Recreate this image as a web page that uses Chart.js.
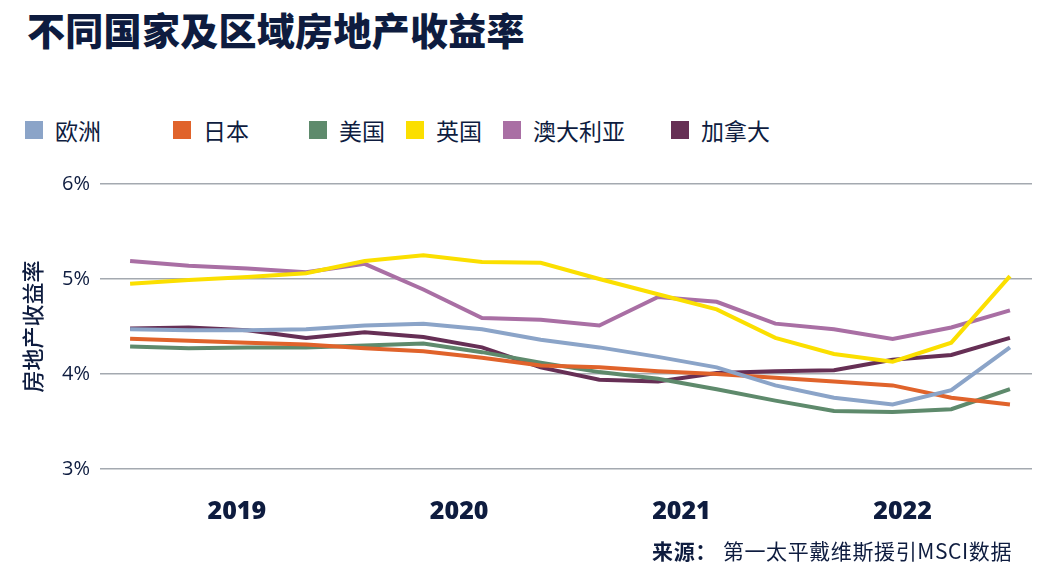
<!DOCTYPE html>
<html>
<head>
<meta charset="utf-8">
<script src="https://cdn.jsdelivr.net/npm/chart.js@4.4.1/dist/chart.umd.min.js"></script>
<style>
  body { margin: 0; background: #fff; width: 1060px; height: 577px; position: relative; overflow: hidden;
         font-family: "Noto Sans CJK SC", "Noto Sans", sans-serif; color: #0e1c3f; }
  #title { position: absolute; left: 27px; top: 1px; font-size: 38px; font-weight: 900; letter-spacing: 0.3px; }
  .leg { position: absolute; top: 115px; font-size: 23px; line-height: 30px; white-space: nowrap; }
  .leg i { position: absolute; left: 0; top: 6px; width: 18px; height: 18px; }
  .leg span { position: absolute; left: 30px; top: 0; }
  #source { position: absolute; right: 48px; top: 535px; font-size: 21px; letter-spacing: 0.6px; }
  #source b { font-weight: 700; margin-right: 6px; }
  canvas { position: absolute; left: 0; top: 0; }
</style>
</head>
<body>
<div id="title">不同国家及区域房地产收益率</div>
<div id="legend"></div>
<canvas id="yields" width="1060" height="577"></canvas>
<div id="source"><b>来源：</b>第一太平戴维斯援引MSCI数据</div>

<script>
// quarterly observations, 16 points
const quarters = ["2018Q3", "2018Q4", "2019Q1", "2019Q2", "2019Q3", "2019Q4", "2020Q1", "2020Q2",
                  "2020Q3", "2020Q4", "2021Q1", "2021Q2", "2021Q3", "2021Q4", "2022Q1", "2022Q2"];

const europe    = [4.47, 4.46, 4.46, 4.47, 4.51, 4.53, 4.47, 4.36, 4.28, 4.18, 4.07, 3.88, 3.75, 3.68, 3.83, 4.28];
const japan     = [4.37, 4.35, 4.33, 4.31, 4.27, 4.24, 4.17, 4.09, 4.07, 4.03, 4.00, 3.96, 3.92, 3.88, 3.75, 3.68];
const usa       = [4.29, 4.27, 4.28, 4.28, 4.30, 4.32, 4.23, 4.12, 4.02, 3.95, 3.84, 3.72, 3.61, 3.60, 3.63, 3.84];
const uk        = [4.95, 4.99, 5.02, 5.06, 5.19, 5.25, 5.18, 5.17, 5.00, 4.84, 4.68, 4.38, 4.21, 4.13, 4.33, 5.03];
const australia = [5.19, 5.14, 5.11, 5.07, 5.16, 4.89, 4.59, 4.57, 4.51, 4.81, 4.76, 4.53, 4.47, 4.37, 4.49, 4.67];
const canada    = [4.48, 4.49, 4.46, 4.38, 4.44, 4.39, 4.28, 4.07, 3.94, 3.92, 4.01, 4.03, 4.04, 4.15, 4.20, 4.38];

const seriesNames = ["欧洲", "日本", "美国", "英国", "澳大利亚", "加拿大"];
const yearLabels = ["2019", "2020", "2021", "2022"];
const yearTickAt = [1.82, 5.61, 9.40, 13.17];   // in quarter-index units
const yTicks = [3, 4, 5, 6];

const colors = ["#8ba4c8", "#e0632b", "#5e8a6c", "#fbdf00", "#a96fa4", "#662f55"];
const navy = "#0e1c3f";

const allSeries = [europe, japan, usa, uk, australia, canada];
const datasets = allSeries.map((vals, k) => ({
  label: seriesNames[k],
  data: vals.map((v, i) => ({ x: i, y: v })),
  borderColor: colors[k],
  backgroundColor: colors[k],
  borderWidth: 4,
  pointRadius: 0,
  tension: 0,
  fill: false
}));

// html legend, spaced like the original
const legendX = [25, 173, 309, 406, 503, 671];
const legend = document.getElementById("legend");
seriesNames.forEach((name, k) => {
  const d = document.createElement("div");
  d.className = "leg";
  d.style.left = legendX[k] + "px";
  d.innerHTML = `<i style="background:${colors[k]}"></i><span>${name}</span>`;
  legend.appendChild(d);
});

new Chart("yields", {
  type: "line",
  data: { datasets: datasets },
  options: {
    responsive: false,
    animation: false,
    layout: { padding: { top: 184, right: 28, left: 0, bottom: 0 } },
    plugins: { legend: { display: false }, tooltip: { enabled: false } },
    scales: {
      x: {
        type: "linear",
        min: -0.513,
        max: 15.376,
        grid: { display: false },
        border: { display: false },
        afterBuildTicks: (s) => { s.ticks = yearTickAt.map(v => ({ value: v })); },
        afterFit: (s) => { s.height = 108; },
        ticks: {
          autoSkip: false,
          maxRotation: 0,
          padding: 20,
          color: navy,
          font: { family: "'Open Sans'", size: 25, weight: "800" },
          callback: (v, i) => yearLabels[i]
        }
      },
      y: {
        min: 3,
        max: 6,
        afterBuildTicks: (s) => { s.ticks = yTicks.map(v => ({ value: v })); },
        afterFit: (s) => { s.width = 100; },
        border: { display: false },
        grid: { color: "#a4a9b0", lineWidth: 1.5, drawTicks: false },
        ticks: {
          padding: 10,
          color: navy,
          font: { family: "'Open Sans'", size: 20 },
          callback: (v) => v + "%"
        },
        title: {
          display: true,
          text: "房地产收益率",
          color: navy,
          padding: { top: 19, bottom: 0 },
          font: { family: "'Noto Sans CJK SC'", size: 22, weight: "500" }
        }
      }
    }
  }
});
</script>
</body>
</html>
